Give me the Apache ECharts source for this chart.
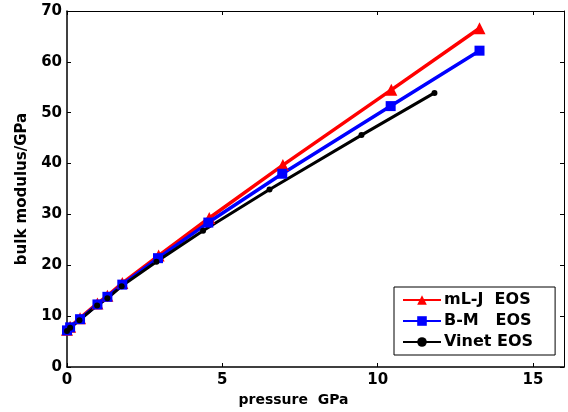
<!DOCTYPE html>
<html>
<head>
<meta charset="utf-8">
<script src="https://cdn.jsdelivr.net/npm/echarts@6/dist/echarts.min.js"></script>
<style>
  html, body { margin: 0; padding: 0; background: #fff; }
  #chart { width: 568px; height: 412px; }
</style>
</head>
<body>
<div id="chart"></div>
<script>
// pressure (GPa) vs bulk modulus (GPa)
var mljData = [[0, 7.3], [0.1, 7.9], [0.42, 9.6], [0.98, 12.5], [1.3, 14.0], [1.78, 16.5],
               [2.95, 21.9], [4.58, 29.3], [6.95, 39.7], [10.44, 54.5], [13.28, 66.6]];
var bmData = [[0, 7.2], [0.1, 7.8], [0.42, 9.4], [0.98, 12.3], [1.3, 13.8], [1.78, 16.2],
              [2.93, 21.4], [4.55, 28.4], [6.93, 38.0], [10.42, 51.3], [13.28, 62.2]];
var vinetData = [[0, 7.1], [0.1, 7.7], [0.4, 9.2], [0.97, 12.1], [1.3, 13.5], [1.76, 15.9],
                 [2.88, 20.7], [4.38, 26.8], [6.52, 34.9], [9.48, 45.6], [11.83, 53.9]];
var seriesNames = ['mL-J  EOS', 'B-M   EOS', 'Vinet EOS'];
var xTicks = [0, 5, 10, 15];

(function () {
    var font = 'DejaVu Sans, Liberation Sans, sans-serif';
    var chart = echarts.init(document.getElementById('chart'));

    function mirrorTick() {
        return { show: true, inside: true, length: 4, lineStyle: { color: '#000' } };
    }

    var option = {
        animation: false,
        backgroundColor: '#fff',
        grid: { left: 67, right: 4, top: 11, bottom: 44 },
        legend: {
            data: seriesNames,
            orient: 'vertical',
            left: 394,
            top: 287,
            padding: [5, 22, 5, 8],
            itemGap: 5,
            itemWidth: 38,
            itemHeight: 12,
            borderColor: '#000',
            borderWidth: 1,
            backgroundColor: '#fff',
            textStyle: { fontFamily: font, fontWeight: 'bold', fontSize: 16, color: '#000', padding: [0, 0, 0, -2] }
        },
        xAxis: [{
            type: 'value',
            min: 0, max: 16, interval: 5,
            name: 'pressure  GPa',
            nameLocation: 'middle',
            nameGap: 26,
            nameTextStyle: { fontFamily: font, fontWeight: 'bold', fontSize: 14, color: '#000', padding: [0, 44, 0, 0] },
            axisLine: { show: true, onZero: false, lineStyle: { color: '#000', width: 1.5 } },
            axisTick: mirrorTick(),
            splitLine: { show: false },
            axisLabel: {
                fontFamily: font, fontWeight: 'bold', fontSize: 15, color: '#000', margin: 6,
                formatter: function (v) { return xTicks.indexOf(v) >= 0 ? String(v) : ''; }
            }
        }, {
            type: 'value', position: 'top',
            min: 0, max: 16, interval: 5,
            axisLine: { show: true, onZero: false, lineStyle: { color: '#000', width: 1 } },
            axisTick: mirrorTick(),
            axisLabel: { show: false },
            splitLine: { show: false }
        }],
        yAxis: [{
            type: 'value',
            min: 0, max: 70, interval: 10,
            name: 'bulk modulus/GPa',
            nameLocation: 'middle',
            nameGap: 37,
            nameTextStyle: { fontFamily: font, fontWeight: 'bold', fontSize: 15, color: '#000' },
            axisLine: { show: true, onZero: false, lineStyle: { color: '#000', width: 1.5 } },
            axisTick: mirrorTick(),
            splitLine: { show: false },
            axisLabel: { fontFamily: font, fontWeight: 'bold', fontSize: 15, color: '#000', margin: 5 }
        }, {
            type: 'value', position: 'right',
            min: 0, max: 70, interval: 10,
            axisLine: { show: true, onZero: false, lineStyle: { color: '#000', width: 1 } },
            axisTick: mirrorTick(),
            axisLabel: { show: false },
            splitLine: { show: false }
        }],
        series: [
            { name: seriesNames[0], type: 'line', data: mljData, symbol: 'triangle', symbolSize: 12,
              showAllSymbol: true, lineStyle: { color: '#ff0000', width: 3.5 }, itemStyle: { color: '#ff0000' } },
            { name: seriesNames[1], type: 'line', data: bmData, symbol: 'rect', symbolSize: 10,
              showAllSymbol: true, lineStyle: { color: '#0000ff', width: 3.5 }, itemStyle: { color: '#0000ff' } },
            { name: seriesNames[2], type: 'line', data: vinetData, symbol: 'circle', symbolSize: 6,
              showAllSymbol: true, lineStyle: { color: '#000', width: 3 }, itemStyle: { color: '#000' } }
        ]
    };

    chart.setOption(option);
})();
</script>
</body>
</html>
